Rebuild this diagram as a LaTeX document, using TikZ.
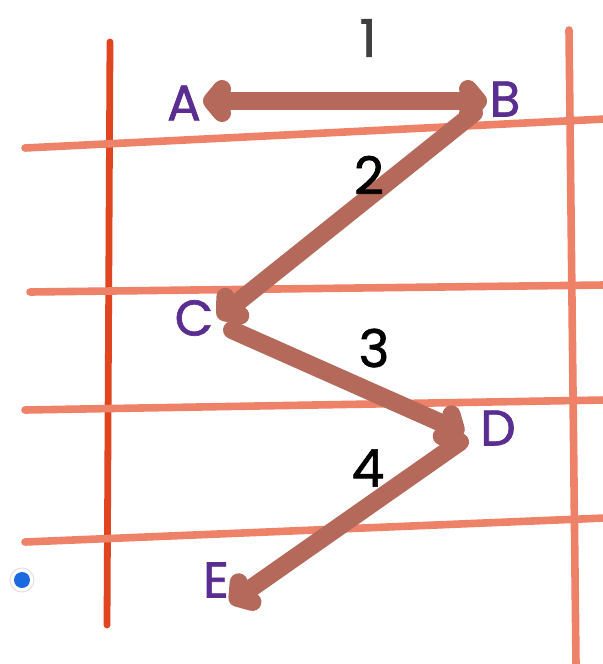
\documentclass[tikz,border=0pt]{standalone}
\usepackage{fontspec}
\setmainfont{Poppins}
\newfontfamily\medfont{Poppins}[FakeBold=1.3]
\usetikzlibrary{arrows.meta}
\definecolor{salmon}{HTML}{EE8268}
\definecolor{redline}{HTML}{E1451F}
\definecolor{brownarrow}{HTML}{B5695A}
\definecolor{letterpurple}{HTML}{5A2D91}
\definecolor{dotblue}{HTML}{1A6BE0}
\tikzset{
  gridline/.style={salmon, line width=3.8pt, line cap=round},
  leftline/.style={redline, line width=3.4pt, line cap=round},
  movearrow/.style={brownarrow, line width=9pt, line cap=round, line join=round,
    arrows={-{Straight Barb[length=5pt,width=12pt,round]}}},
  letter/.style={letterpurple, font=\medfont\fontsize{25}{25}\selectfont, inner sep=0pt},
  num/.style={black, font=\medfont\fontsize{26}{26}\selectfont, inner sep=0pt}
}
\begin{document}
\begin{tikzpicture}[x=0.5pt,y=-0.5pt]
\useasboundingbox[fill=white] (0,0) rectangle (603,664);
% vertical lines
\draw[leftline] (110,42) -- (107,625);
\draw[gridline] (569,30) -- (576,664);
% horizontal lines
\draw[gridline] (25,148) -- (605,119);
\draw[gridline] (30,292) -- (605,285);
\draw[gridline] (25,410) -- (605,400);
\draw[gridline] (25,542) -- (605,518);
% endpoints
\coordinate (a1) at (203,101);
\coordinate (b1) at (487,101);
\coordinate (b2) at (474,113);
\coordinate (c2) at (218,318);
\coordinate (c3) at (232,330);
\coordinate (d3) at (464,433);
\coordinate (d4) at (460,442);
\coordinate (e4) at (230,603);
% arrows
\draw[movearrow, arrows={{Straight Barb[length=5pt,width=12pt,round]}-{Straight Barb[length=5pt,width=12pt,round]}}] (a1) -- (b1);
\draw[movearrow] (b2) -- (c2);
\draw[movearrow] (c3) -- (d3);
\draw[movearrow] (d4) -- (e4);
% letters
\node[letter] (A) at (184,103) {A};
\node[letter] (B) at (505,99) {B};
\node[letter] (C) at (194,318) {C};
\node[letter] (D) at (498,428) {D};
\node[letter] (E) at (216,580) {E};
% numbers
\node[num, text=black!75] (n1) at (368,38) {1};
\node[num] (n2) at (369,175) {2};
\node[num] (n3) at (374,348) {3};
\node[num] (n4) at (368,468) {4};
% blue dot
\node[circle, fill=white, draw=black!12, line width=0.5pt, minimum size=12pt, inner sep=0pt] (ring) at (22,580) {};
\node[circle, fill=dotblue, minimum size=8pt, inner sep=0pt] (dot) at (ring) {};
\end{tikzpicture}
\end{document}
